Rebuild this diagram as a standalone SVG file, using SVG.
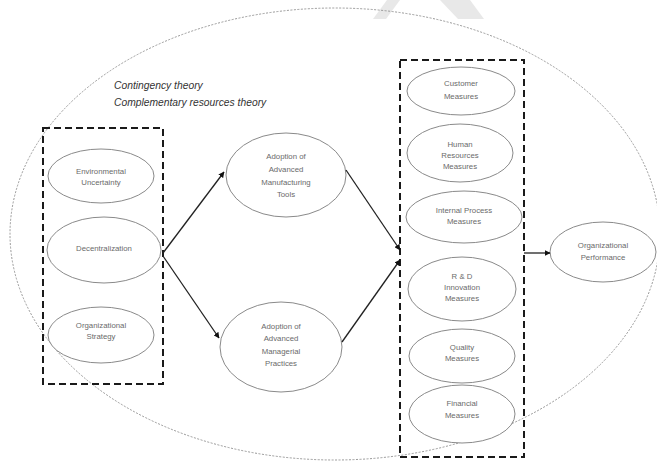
<svg xmlns="http://www.w3.org/2000/svg" width="657" height="463" viewBox="0 0 657 463">
<style>
.node ellipse{fill:#fff;stroke:#8a8a8a;stroke-width:1}
.node text{font-family:"Liberation Sans",Arial,sans-serif;font-size:7.8px;fill:#6a6a6a;text-anchor:middle}
.box{fill:none;stroke:#1a1a1a;stroke-width:2;stroke-dasharray:7,4}
.conn line{stroke:#222;stroke-width:1.3;marker-end:url(#ah)}
.theory{font-family:"Liberation Sans",Arial,sans-serif;font-style:italic;font-size:10.3px;fill:#333}
</style>
<defs>
<marker id="ah" viewBox="0 0 10 10" refX="9" refY="5" markerWidth="6" markerHeight="6" markerUnits="userSpaceOnUse" orient="auto">
<path d="M0,0 L10,5 L0,10 z" fill="#111"/>
</marker>
</defs>
<rect width="657" height="463" fill="#fff"/>
<polygon points="373,19 387,0 400,0 386,19" fill="#e8e8e8"/>
<polygon points="440,0 470,0 484,19 458,19" fill="#e8e8e8"/>
<ellipse id="outer" cx="335" cy="234" rx="325" ry="226" fill="none" stroke="#999" stroke-width="1" stroke-dasharray="2,1.5"/>
<text class="theory" x="114" y="89">Contingency theory</text>
<text class="theory" x="114" y="106">Complementary resources theory</text>
<rect class="box" x="43" y="128" width="120" height="256"/>
<rect class="box" x="400" y="60" width="124" height="397"/>
<g id="n-env" class="node"><ellipse cx="101" cy="176" rx="53" ry="27"/><text x="101" y="174">Environmental</text><text x="101" y="185">Uncertainty</text></g>
<g id="n-dec" class="node"><ellipse cx="104" cy="250" rx="57" ry="33"/><text x="104" y="251">Decentralization</text></g>
<g id="n-str" class="node"><ellipse cx="101" cy="335" rx="53" ry="28"/><text x="101" y="328">Organizational</text><text x="101" y="339">Strategy</text></g>
<g id="n-amt" class="node"><ellipse cx="286" cy="175" rx="60" ry="42"/><text x="286" y="159">Adoption of</text><text x="286" y="172">Advanced</text><text x="286" y="185">Manufacturing</text><text x="286" y="197">Tools</text></g>
<g id="n-amp" class="node"><ellipse cx="281" cy="347" rx="61" ry="45"/><text x="281" y="329">Adoption of</text><text x="281" y="341">Advanced</text><text x="281" y="354">Managerial</text><text x="281" y="366">Practices</text></g>
<g id="n-cus" class="node"><ellipse cx="461" cy="91" rx="54" ry="24"/><text x="461" y="86">Customer</text><text x="461" y="99">Measures</text></g>
<g id="n-hr" class="node"><ellipse cx="460" cy="153" rx="53" ry="29"/><text x="460" y="147">Human</text><text x="460" y="158">Resources</text><text x="460" y="169">Measures</text></g>
<g id="n-ip" class="node"><ellipse cx="464" cy="217" rx="58" ry="26"/><text x="464" y="213">Internal Process</text><text x="464" y="224">Measures</text></g>
<g id="n-rd" class="node"><ellipse cx="462" cy="289" rx="54" ry="32"/><text x="462" y="279">R &amp; D</text><text x="462" y="290">Innovation</text><text x="462" y="301">Measures</text></g>
<g id="n-q" class="node"><ellipse cx="462" cy="356" rx="53" ry="27"/><text x="462" y="350">Quality</text><text x="462" y="361">Measures</text></g>
<g id="n-f" class="node"><ellipse cx="462" cy="414" rx="53" ry="29"/><text x="462" y="406">Financial</text><text x="462" y="418">Measures</text></g>
<g id="n-op" class="node"><ellipse cx="603" cy="252" rx="53" ry="30"/><text x="603" y="248">Organizational</text><text x="603" y="260">Performance</text></g>
<g id="connectors" class="conn">
<line x1="163" y1="253" x2="224" y2="172"/>
<line x1="163" y1="256" x2="219" y2="338"/>
<line x1="346" y1="170" x2="400" y2="250"/>
<line x1="342" y1="342" x2="400" y2="260"/>
<line x1="524" y1="253" x2="550" y2="253"/>
</g>
</svg>
